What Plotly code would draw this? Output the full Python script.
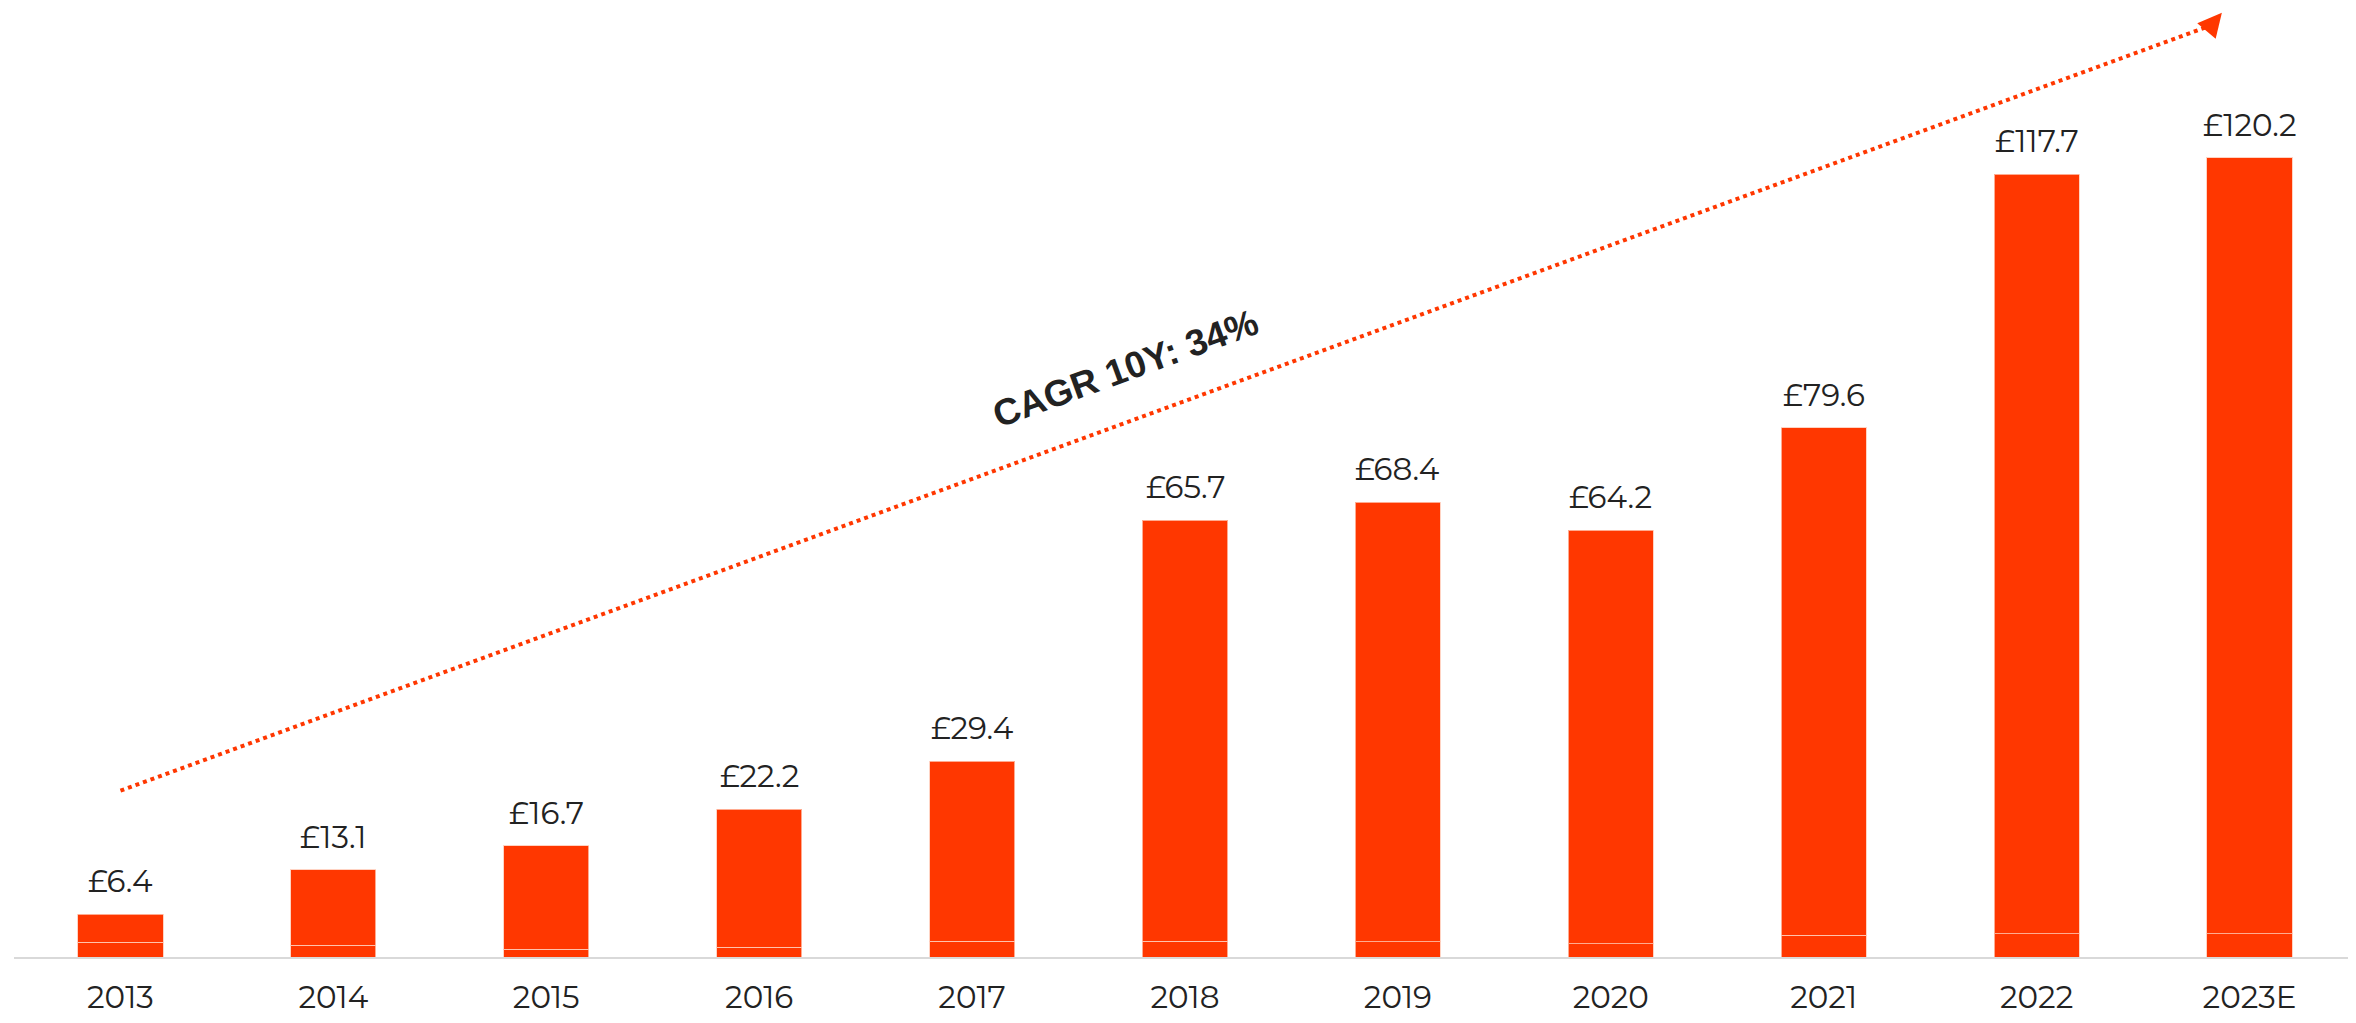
import plotly.graph_objects as go

years = ["2013", "2014", "2015", "2016", "2017", "2018", "2019", "2020", "2021", "2022", "2023E"]
totals = [6.4, 13.1, 16.7, 22.2, 29.4, 65.7, 68.4, 64.2, 79.6, 117.7, 120.2]
base_part = [2.2, 1.8, 1.2, 1.5, 2.4, 2.4, 2.3, 2.0, 3.3, 3.5, 3.5]
upper_part = [round(t - b, 1) for t, b in zip(totals, base_part)]
labels = ["£{}".format(t) for t in totals]

cagr_text = "CAGR 10Y: 34%"
trend_start = (0, 25)
trend_end = (9.87, 142)

bar_color = "#FF3700"
text_color = "#222222"
label_font = "Montserrat, Open Sans, sans-serif"

fig = go.Figure()
for part in (base_part, upper_part):
    fig.add_trace(go.Bar(
        x=years,
        y=part,
        marker=dict(color=bar_color, line=dict(color="rgba(255,200,180,0.8)", width=1)),
        width=0.4,
        showlegend=False,
        hoverinfo="skip",
    ))

# value labels above bars (category index, since "2013" etc. would be read as numbers)
for i, (tot, lab) in enumerate(zip(totals, labels)):
    fig.add_annotation(
        x=i, y=tot, text=lab, showarrow=False,
        yanchor="bottom", yshift=12,
        font=dict(family=label_font, size=31, color=text_color),
    )

# dotted trend arrow
fig.add_shape(
    type="line", xref="x", yref="y",
    x0=trend_start[0], y0=trend_start[1],
    x1=trend_end[0] - 0.05, y1=trend_end[1] - 1.9,
    line=dict(color=bar_color, width=4, dash="dot"),
)
fig.add_annotation(
    x=trend_end[0], y=trend_end[1],
    ax=trend_end[0] - 0.06, ay=trend_end[1] - 2.3,
    xref="x", yref="y", axref="x", ayref="y",
    text="", showarrow=True,
    arrowhead=2, arrowsize=1.2, arrowwidth=4, arrowcolor=bar_color,
)
fig.add_annotation(
    x=4.72, y=88.5, text="<b>" + cagr_text + "</b>", showarrow=False,
    textangle=-20,
    font=dict(family="Liberation Sans, Arial, sans-serif", size=37, color=text_color),
)

# page has an 8px body margin, so the figure is sized to fit the window
fig.update_layout(
    barmode="stack",
    width=2348,
    height=1015,
    margin=dict(l=6, r=0, t=0, b=66),
    plot_bgcolor="white",
    paper_bgcolor="white",
)
fig.update_xaxes(
    type="category",
    range=[-0.5, 10.5],
    showline=True, linecolor="#d9d9d9", linewidth=2,
    showgrid=False, ticks="",
    ticklabelstandoff=12,
    tickfont=dict(family=label_font, size=31, color=text_color),
)
fig.update_yaxes(
    range=[0, 142.7],
    visible=False, showgrid=False, zeroline=False,
)

fig.write_html("out.html")
